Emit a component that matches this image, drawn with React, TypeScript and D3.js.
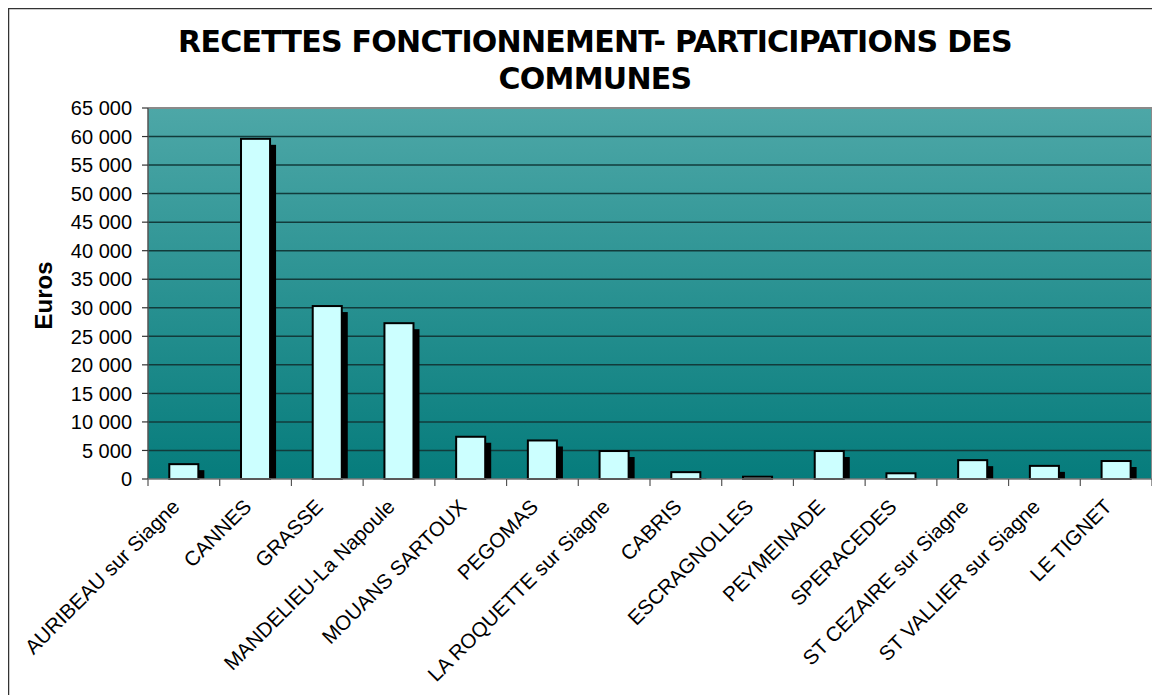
import React from 'react';
import * as d3 from 'd3';

const communes = [
  'AURIBEAU sur Siagne', 'CANNES', 'GRASSE', 'MANDELIEU-La Napoule', 'MOUANS SARTOUX',
  'PEGOMAS', 'LA ROQUETTE sur Siagne', 'CABRIS', 'ESCRAGNOLLES', 'PEYMEINADE',
  'SPERACEDES', 'ST CEZAIRE sur Siagne', 'ST VALLIER sur Siagne', 'LE TIGNET',
];
const participations = [2600, 59600, 30300, 27300, 7400, 6750, 4900, 1200, 400, 4900, 1000, 3300, 2300, 3150];
const yTicks = [0, 5000, 10000, 15000, 20000, 25000, 30000, 35000, 40000, 45000, 50000, 55000, 60000, 65000];

const W = 1152;
const H = 687;
const left = 140, right = 1144, top = 100, bottom = 471;

const fmt = d3.formatLocale({ decimal: ',', thousands: ' ', grouping: [3], currency: ['', ' €'] }).format(',d');

const App = () => {
  const x = d3.scaleBand<string>().domain(communes).range([left, right]).paddingInner(0).paddingOuter(0);
  const y = d3.scaleLinear().domain([0, 65000]).range([bottom, top]);
  const bw = x.bandwidth();
  const barW = bw * 0.405;
  const sh = 6;

  return (
    <svg width={W} height={H} style={{ display: 'block', fontFamily: 'Liberation Sans, Arial, sans-serif' }}>
      <defs>
        <linearGradient id="bg" x1="0" y1="0" x2="0" y2="1">
          <stop offset="0" stopColor="#4da7a7" />
          <stop offset="1" stopColor="#067c7c" />
        </linearGradient>
        <clipPath id="plotClip">
          <rect x={left} y={top} width={right - left} height={bottom - top} />
        </clipPath>
      </defs>
      <rect x={0.5} y={0.5} width={W + 20} height={H + 20} fill="#fff" stroke="#333" strokeWidth={1.5} />

      {/* title */}
      <text x={587} y={44} textAnchor="middle" fontFamily="DejaVu Sans, Verdana, sans-serif" fontWeight="bold" fontSize={30} letterSpacing={-0.75}>
        RECETTES FONCTIONNEMENT- PARTICIPATIONS DES
      </text>
      <text x={587} y={81} textAnchor="middle" fontFamily="DejaVu Sans, Verdana, sans-serif" fontWeight="bold" fontSize={30} letterSpacing={-0.75}>
        COMMUNES
      </text>

      {/* plot background */}
      <rect x={left} y={top} width={right - left} height={bottom - top} fill="url(#bg)" />
      <g clipPath="url(#plotClip)">
        {yTicks.filter(t => t > 0).map(t => (
          <line key={t} x1={left} x2={right} y1={y(t)} y2={y(t)} stroke="#123b3b" strokeWidth={1.5} />
        ))}
      </g>
      <path d={`M${left},${top}H${right}V${bottom}`} fill="none" stroke="#8a8a8a" strokeWidth={2} />

      {/* bars */}
      {communes.map((c, i) => {
        const v = participations[i];
        const bx = (x(c) as number) + bw * 0.297;
        const by = y(v);
        const h = bottom - by;
        return (
          <g key={c}>
            <rect x={bx + barW} y={Math.min(by + sh, bottom)} width={sh} height={Math.max(0, bottom - by - sh)} fill="#000" />
            <rect x={bx} y={by} width={barW} height={h} fill="#ccffff" stroke="#000" strokeWidth={2} />
          </g>
        );
      })}

      {/* y axis */}
      <line x1={left} x2={left} y1={top} y2={bottom} stroke="#555" strokeWidth={1.5} />
      {yTicks.map(t => (
        <g key={t}>
          <line x1={left - 6} x2={left} y1={y(t)} y2={y(t)} stroke="#333" strokeWidth={1.2} />
          <text x={left - 16} y={y(t)} dy="0.36em" textAnchor="end" fontSize={20}>{fmt(t)}</text>
        </g>
      ))}
      <text transform={`translate(35,${(top + bottom) / 2 + 2}) rotate(-90)`} textAnchor="middle" dy="0.36em" fontWeight="bold" fontSize={24}>Euros</text>

      {/* x axis */}
      <line x1={left} x2={right} y1={bottom} y2={bottom} stroke="#777" strokeWidth={1.5} />
      {communes.concat(['']).map((c, i) => {
        const tx = left + i * bw;
        return <line key={'t' + i} x1={tx} x2={tx} y1={bottom} y2={bottom + 7} stroke="#555" strokeWidth={1.2} />;
      })}
      {communes.map(c => {
        const cx = (x(c) as number) + bw / 2;
        return (
          <text key={'l' + c} transform={`translate(${cx - 3},${bottom + 29}) rotate(-45)`} textAnchor="end" fontSize={20.5}>{c}</text>
        );
      })}
    </svg>
  );
};

export default App;
